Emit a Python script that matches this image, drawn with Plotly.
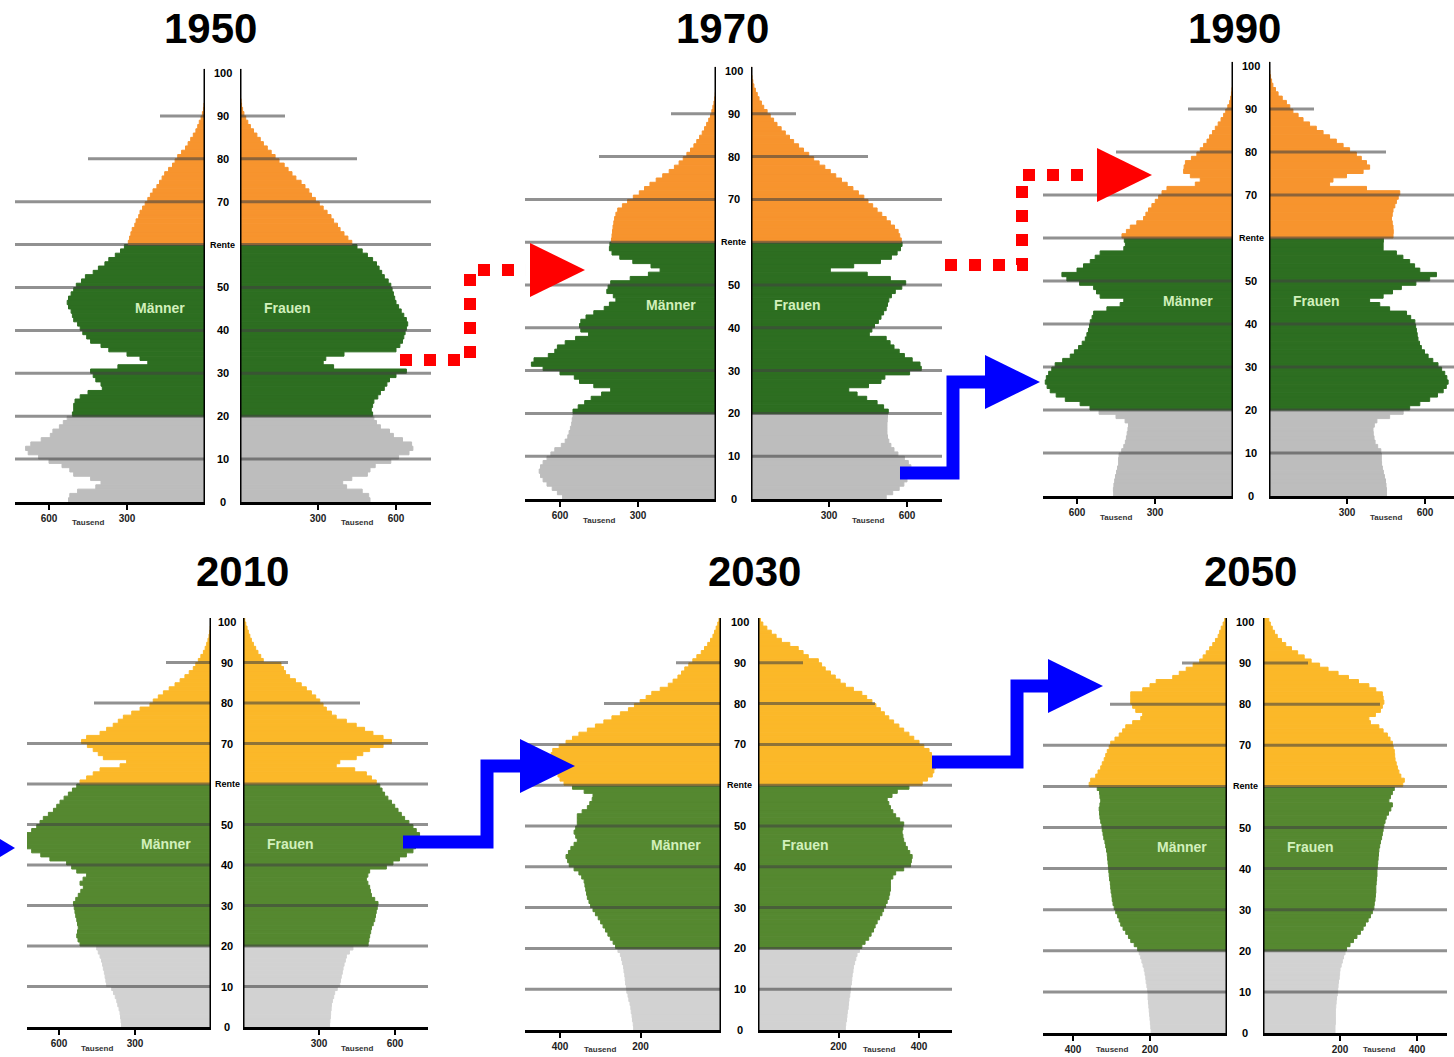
import plotly.graph_objects as go

W, H = 1454, 1057

# ---------------- data ----------------
AGES = list(range(101))
YEARS = ["1950", "1970", "1990", "2010", "2030", "2050"]
AGE_TICKS = [0, 10, 20, 30, 40, 50, 60, 70, 80, 90, 100]
AGE_LABELS = ["0", "10", "20", "30", "40", "50", "Rente", "70", "80", "90", "100"]
X_TICKS_A = [300, 600]
X_TICKS_B = [200, 400]
PANEL_TICKS = [X_TICKS_A, X_TICKS_A, X_TICKS_A, X_TICKS_A, X_TICKS_B, X_TICKS_B]
UNIT_LABEL = "Tausend"
SEX_LABELS = ["Männer", "Frauen"]

# population per single year of age, in thousands
m1950 = [525, 520, 490, 420, 400, 440, 505, 520, 550, 600,
         640, 680, 690, 670, 630, 595, 585, 560, 545, 530,
         510, 505, 505, 500, 480, 450, 395, 400, 420, 430,
         440, 335, 220, 250, 300, 370, 400, 440, 455, 470,
         480, 490, 505, 510, 515, 525, 530, 525, 515, 505,
         495, 475, 460, 430, 410, 385, 370, 345, 325, 310,
         295, 290, 285, 280, 270, 265, 255, 250, 240, 230,
         220, 210, 200, 185, 175, 165, 155, 140, 125, 115,
         105, 90, 75, 65, 55, 45, 35, 28, 22, 15,
         10, 6, 4, 2, 1, 1, 0, 0, 0, 0,
         0]
f1950 = [500, 495, 470, 410, 395, 430, 490, 500, 520, 580,
         610, 650, 665, 660, 625, 590, 575, 540, 525, 515,
         510, 505, 510, 515, 530, 540, 555, 565, 575, 600,
         640, 360, 320, 330, 400, 600, 615, 625, 630, 635,
         640, 645, 640, 630, 620, 610, 600, 595, 590, 585,
         580, 570, 555, 545, 535, 525, 510, 490, 470, 450,
         430, 415, 400, 385, 375, 360, 350, 335, 320, 305,
         290, 275, 265, 250, 235, 215, 200, 185, 170, 150,
         135, 120, 105, 90, 78, 65, 52, 40, 30, 22,
         15, 10, 6, 4, 2, 1, 1, 0, 0, 0,
         0]
m1970 = [590, 610, 630, 650, 665, 675, 680, 675, 665, 650,
         635, 620, 595, 580, 570, 565, 560, 555, 553, 550,
         550, 530, 505, 480, 440, 405, 470, 525, 545, 600,
         665, 710, 700, 645, 620, 610, 580, 540, 490, 520,
         525, 520, 500, 470, 430, 410, 385, 395, 420, 415,
         405, 330, 260, 215, 250, 320, 370, 400, 410, 408,
         402, 400, 398, 396, 393, 390, 385, 378, 360, 340,
         318, 295, 275, 254, 230, 205, 180, 160, 142, 126,
         112, 98, 85, 74, 63, 53, 44, 36, 28, 21,
         16, 12, 8, 5, 3, 2, 1, 0, 0, 0,
         0]
f1970 = [520, 545, 570, 588, 600, 612, 620, 615, 605, 590,
         565, 550, 538, 530, 525, 523, 523, 523, 524, 525,
         528, 510, 485, 445, 408, 376, 452, 500, 515, 610,
         655, 650, 620, 590, 570, 550, 535, 520, 455, 465,
         475, 490, 500, 510, 520, 525, 530, 540, 555, 580,
         595, 536, 447, 305, 395, 498, 540, 562, 575, 581,
         578, 572, 566, 552, 536, 520, 503, 485, 468, 450,
         434, 413, 392, 370, 348, 326, 305, 284, 262, 241,
         222, 202, 183, 164, 148, 132, 116, 100, 87, 74,
         62, 49, 40, 31, 24, 17, 11, 7, 4, 2,
         1]
m1990 = [459, 460, 458, 455, 452, 448, 444, 440, 440, 438,
         428, 420, 414, 410, 407, 404, 402, 415, 450, 515,
         550, 588, 645, 680, 703, 715, 722, 718, 709, 697,
         684, 655, 626, 610, 594, 580, 568, 562, 556, 552,
         549, 542, 536, 485, 434, 420, 511, 525, 536, 590,
         639, 658, 600, 575, 549, 530, 511, 420, 414, 418,
         427, 410, 395, 370, 344, 335, 325, 312, 299, 286,
         273, 254, 145, 126, 164, 190, 188, 183, 160, 139,
         126, 113, 100, 90, 79, 68, 57, 46, 36, 28,
         20, 13, 9, 6, 4, 2, 1, 0, 0, 0,
         0]
f1990 = [452, 452, 450, 448, 444, 440, 436, 433, 432, 432,
         430, 418, 408, 404, 401, 400, 405, 415, 464, 516,
         541, 580, 618, 648, 670, 682, 689, 684, 676, 664,
         650, 630, 612, 598, 586, 579, 573, 570, 567, 564,
         561, 545, 529, 464, 426, 387, 439, 475, 509, 565,
         618, 644, 580, 560, 541, 515, 490, 439, 439, 440,
         477, 478, 477, 474, 471, 474, 477, 484, 490, 497,
         503, 375, 233, 246, 298, 362, 387, 375, 355, 336,
         310, 285, 259, 233, 208, 182, 156, 131, 112, 92,
         80, 67, 51, 35, 25, 15, 10, 6, 3, 2,
         1]
m2010 = [353, 355, 357, 359, 363, 368, 372, 378, 385, 392,
         412, 415, 418, 421, 425, 428, 432, 438, 445, 451,
         517, 525, 530, 527, 524, 527, 530, 534, 537, 540,
         543, 534, 524, 514, 504, 517, 505, 491, 530, 550,
         570, 636, 672, 708, 728, 747, 738, 728, 708, 688,
         675, 662, 642, 622, 609, 596, 580, 563, 547, 530,
         517, 491, 465, 438, 359, 333, 425, 445, 465, 488,
         511, 491, 438, 412, 386, 366, 346, 313, 280, 241,
         228, 208, 188, 165, 142, 122, 103, 86, 70, 60,
         50, 40, 30, 23, 17, 12, 8, 5, 3, 2,
         1]
f2010 = [342, 343, 345, 346, 348, 349, 353, 358, 362, 372,
         382, 385, 388, 392, 395, 399, 404, 408, 420, 434,
         494, 497, 500, 504, 507, 514, 520, 523, 526, 530,
         533, 520, 507, 503, 500, 493, 487, 493, 500, 566,
         592, 618, 645, 671, 681, 691, 694, 697, 684, 671,
         655, 638, 625, 612, 599, 586, 572, 559, 549, 540,
         526, 507, 487, 441, 368, 382, 447, 473, 500, 553,
         586, 553, 513, 480, 447, 408, 368, 349, 329, 316,
         303, 287, 270, 250, 230, 207, 184, 168, 160, 150,
         80, 70, 59, 50, 41, 33, 27, 21, 16, 11,
         7]
m2030 = [217, 218, 220, 221, 223, 224, 226, 229, 231, 234,
         235, 237, 238, 239, 241, 242, 245, 247, 250, 256,
         262, 268, 275, 281, 287, 293, 299, 305, 312, 318,
         324, 328, 332, 334, 336, 338, 340, 346, 353, 365,
         377, 381, 385, 379, 373, 365, 357, 361, 365, 361,
         357, 357, 357, 345, 332, 326, 320, 318, 340, 369,
         390, 400, 405, 412, 418, 422, 426, 422, 418, 402,
         385, 369, 353, 332, 312, 291, 271, 250, 230, 215,
         201, 186, 172, 151, 131, 119, 107, 98, 90, 80,
         70, 60, 49, 41, 33, 26, 20, 16, 12, 8,
         5]
f2030 = [217, 218, 220, 221, 222, 224, 225, 226, 228, 229,
         230, 232, 233, 234, 236, 237, 240, 243, 246, 252,
         258, 266, 275, 281, 287, 291, 296, 302, 308, 312,
         317, 321, 325, 327, 329, 329, 329, 335, 342, 362,
         379, 381, 383, 377, 371, 366, 362, 360, 358, 360,
         362, 352, 342, 335, 329, 325, 321, 333, 346, 375,
         408, 421, 433, 437, 441, 439, 437, 431, 425, 412,
         400, 387, 375, 362, 350, 337, 325, 314, 304, 293,
         283, 270, 258, 237, 217, 204, 192, 180, 167, 158,
         150, 125, 112, 100, 79, 58, 45, 33, 22, 12,
         6]
m2050 = [197, 198, 199, 200, 201, 202, 203, 204, 205, 205,
         206, 208, 210, 211, 213, 215, 218, 221, 224, 228,
         232, 241, 250, 256, 263, 270, 276, 280, 284, 289,
         293, 296, 298, 299, 301, 302, 303, 305, 306, 307,
         308, 309, 310, 311, 313, 315, 317, 320, 322, 324,
         325, 328, 330, 331, 332, 330, 328, 330, 331, 337,
         358, 354, 341, 335, 328, 324, 319, 315, 311, 306,
         302, 291, 280, 271, 263, 245, 224, 219, 237, 245,
         250, 250, 250, 219, 200, 184, 141, 124, 106, 88,
         71, 62, 54, 45, 37, 30, 23, 19, 15, 10,
         6]
f2050 = [187, 187, 188, 188, 188, 188, 189, 190, 191, 193,
         194, 195, 196, 198, 199, 200, 203, 206, 209, 213,
         217, 226, 235, 244, 253, 260, 266, 273, 279, 284,
         288, 289, 291, 292, 293, 293, 294, 295, 296, 296,
         297, 298, 299, 300, 301, 303, 305, 308, 310, 312,
         314, 317, 320, 326, 332, 336, 327, 331, 336, 341,
         363, 367, 358, 353, 349, 346, 343, 342, 341, 338,
         336, 330, 323, 312, 301, 279, 275, 292, 305, 310,
         314, 312, 310, 293, 275, 248, 222, 195, 169, 147,
         125, 107, 90, 74, 59, 48, 37, 30, 24, 19,
         15]

MALES = [m1950, m1970, m1990, m2010, m2030, m2050]
FEMALES = [f1950, f1970, f1990, f2010, f2030, f2050]

# ---------------- styling / layout (pixel geometry of the page) ----------------
TOP_COLORS = ("#bdbdbd", "#2d6e21", "#f7942e")
BOT_COLORS = ("#d2d2d2", "#558830", "#fbb829")

GEOM = [
    dict(Lc=205, L0=15, Rc=240, R1=431, y0=502, yr=4.29, s=0.26, tx=210, ty=28, top=True),
    dict(Lc=716, L0=525, Rc=751, R1=942, y0=499, yr=4.28, s=0.26, tx=722, ty=28, top=True),
    dict(Lc=1233, L0=1043, Rc=1269, R1=1454, y0=496, yr=4.30, s=0.26, tx=1234, ty=28, top=True),
    dict(Lc=211, L0=27, Rc=243, R1=428, y0=1027, yr=4.05, s=0.2533, tx=242, ty=571, top=False),
    dict(Lc=721, L0=525, Rc=758, R1=952, y0=1030, yr=4.08, s=0.4025, tx=754, ty=571, top=False),
    dict(Lc=1227, L0=1043, Rc=1263, R1=1447, y0=1033, yr=4.11, s=0.385, tx=1250, ty=571, top=False),
]

GRID_COLOR = "rgba(65,65,65,0.58)"
FONT = "Liberation Sans, Arial, sans-serif"
NARROW = "Liberation Sans Narrow, Arial Narrow, Liberation Sans, sans-serif"


def px_x(x):
    return x / W


def px_y(y):
    return 1 - y / H


fig = go.Figure()
layout = dict(width=W, height=H, margin=dict(l=0, r=0, t=0, b=0),
              paper_bgcolor="white", plot_bgcolor="rgba(0,0,0,0)",
              showlegend=False, font=dict(family=FONT))
shapes = []
annotations = []

for i, g in enumerate(GEOM):
    colors = TOP_COLORS if g["top"] else BOT_COLORS
    bar_cols = [colors[0] if a < 20 else (colors[1] if a < 60 else colors[2]) for a in AGES]
    ticks = PANEL_TICKS[i]
    kL, kR = 2 * i + 1, 2 * i + 2
    s = g["s"]
    maxL = (g["Lc"] - g["L0"]) / s
    maxR = (g["R1"] - g["Rc"]) / s
    ydom = [px_y(g["y0"]), px_y(g["y0"] - 101 * g["yr"])]

    for k, vals, dom, rng in [
        (kL, MALES[i], [max(0.0, px_x(g["L0"])), px_x(g["Lc"])], [maxL, 0]),
        (kR, FEMALES[i], [px_x(g["Rc"]), min(1.0, px_x(g["R1"]))], [0, maxR]),
    ]:
        fig.add_trace(go.Bar(
            y=[a + 0.5 for a in AGES], x=vals, orientation="h", width=1,
            marker=dict(color=bar_cols, line=dict(width=1, color=bar_cols)),
            xaxis=f"x{k}", yaxis=f"y{k}", hoverinfo="skip"))
        layout[f"xaxis{k}"] = dict(
            domain=dom, range=rng, anchor=f"y{k}", showgrid=False, zeroline=False,
            showline=True, linecolor="black", linewidth=3,
            ticks="outside", ticklen=5, tickwidth=1.5, tickcolor="black",
            tickvals=ticks, ticktext=[str(t) for t in ticks],
            tickfont=dict(size=10, color="#222", family=NARROW, weight="bold"),
            fixedrange=True)
        layout[f"yaxis{k}"] = dict(domain=ydom, range=[0, 101], anchor=f"x{k}",
                                   visible=False, fixedrange=True)

        # grid lines
        for age in [10, 20, 30, 40, 50, 60, 70, 80, 90]:
            if age == 80:
                ext = 117 / s
            elif age == 90:
                ext = 45 / s
            else:
                ext = maxL if k == kL else maxR
            shapes.append(dict(type="line", xref=f"x{k}", yref=f"y{k}",
                               x0=0, x1=ext, y0=age, y1=age, layer="above",
                               line=dict(color=GRID_COLOR, width=3)))
        # centre vertical line
        shapes.append(dict(type="line", xref=f"x{k}", yref=f"y{k}", x0=0, x1=0,
                           y0=0, y1=101, layer="above",
                           line=dict(color="black", width=3)))
        # unit label
        annotations.append(dict(xref=f"x{k}", yref="paper", x=sum(ticks) / 2,
                                y=px_y(min(g["y0"] + 21, 1049)), text=UNIT_LABEL,
                                showarrow=False,
                                font=dict(size=8, color="#333", family=NARROW, weight="bold"),
                                xanchor="center", yanchor="middle"))

    # sex labels
    annotations.append(dict(xref=f"x{kL}", yref=f"y{kL}", x=45 / s, y=45.3,
                            text=SEX_LABELS[0], showarrow=False,
                            font=dict(size=14, color="#d2f0bc", family=NARROW, weight="bold")))
    annotations.append(dict(xref=f"x{kR}", yref=f"y{kR}", x=47 / s, y=45.3,
                            text=SEX_LABELS[1], showarrow=False,
                            font=dict(size=14, color="#d2f0bc", family=NARROW, weight="bold")))
    # age labels
    for age, lab in zip(AGE_TICKS, AGE_LABELS):
        annotations.append(dict(xref="paper", yref=f"y{kL}", x=px_x((g["Lc"] + g["Rc"]) / 2),
                                y=age, text=lab, showarrow=False,
                                font=dict(size=11 if lab != "Rente" else 9, color="black",
                                          family=NARROW, weight="bold"),
                                xanchor="center", yanchor="middle"))
    # title
    annotations.append(dict(xref="paper", yref="paper", x=px_x(g["tx"]), y=px_y(g["ty"]),
                            text=YEARS[i], showarrow=False,
                            font=dict(size=42, color="black", family=FONT, weight="bold"),
                            xanchor="center", yanchor="middle"))


# ---------------- arrows ----------------
def path(pts, close=False):
    s = "M " + " L ".join(f"{px_x(x):.5f},{px_y(y):.5f}" for x, y in pts)
    return s + (" Z" if close else "")


def tri(x0, yc, length=55, half=27):
    return path([(x0, yc - half), (x0 + length, yc), (x0, yc + half)], close=True)


RED, BLUE = "#ff0000", "#0000ff"
arrow_lines = [
    ([(400, 360), (470, 360), (470, 270), (526, 270)], RED, "dot"),
    ([(945, 265), (1022, 265), (1022, 175), (1094, 175)], RED, "dot"),
    ([(900, 473), (953, 473), (953, 382), (988, 382)], BLUE, "solid"),
    ([(403, 842), (487, 842), (487, 766), (523, 766)], BLUE, "solid"),
    ([(932, 762), (1017, 762), (1017, 686), (1051, 686)], BLUE, "solid"),
]
for pts, col, dash in arrow_lines:
    shapes.append(dict(type="path", xref="paper", yref="paper", path=path(pts),
                       line=dict(color=col, width=12 if dash == "dot" else 13, dash=dash),
                       fillcolor="rgba(0,0,0,0)", layer="above"))
heads = [(530, 270, RED), (1097, 175, RED), (985, 382, BLUE), (520, 766, BLUE), (1048, 686, BLUE)]
for x0, yc, col in heads:
    shapes.append(dict(type="path", xref="paper", yref="paper", path=tri(x0, yc),
                       fillcolor=col, line=dict(width=0), layer="above"))
# arrow tip entering at the left edge
shapes.append(dict(type="path", xref="paper", yref="paper",
                   path=path([(0, 839), (15, 848), (0, 857)], close=True),
                   fillcolor=BLUE, line=dict(width=0), layer="above"))

layout["shapes"] = shapes
layout["annotations"] = annotations
fig.update_layout(**layout)
fig.write_html("out.html", config={"displayModeBar": False},
               post_script="document.body.style.margin='0';document.body.style.overflow='hidden';")
